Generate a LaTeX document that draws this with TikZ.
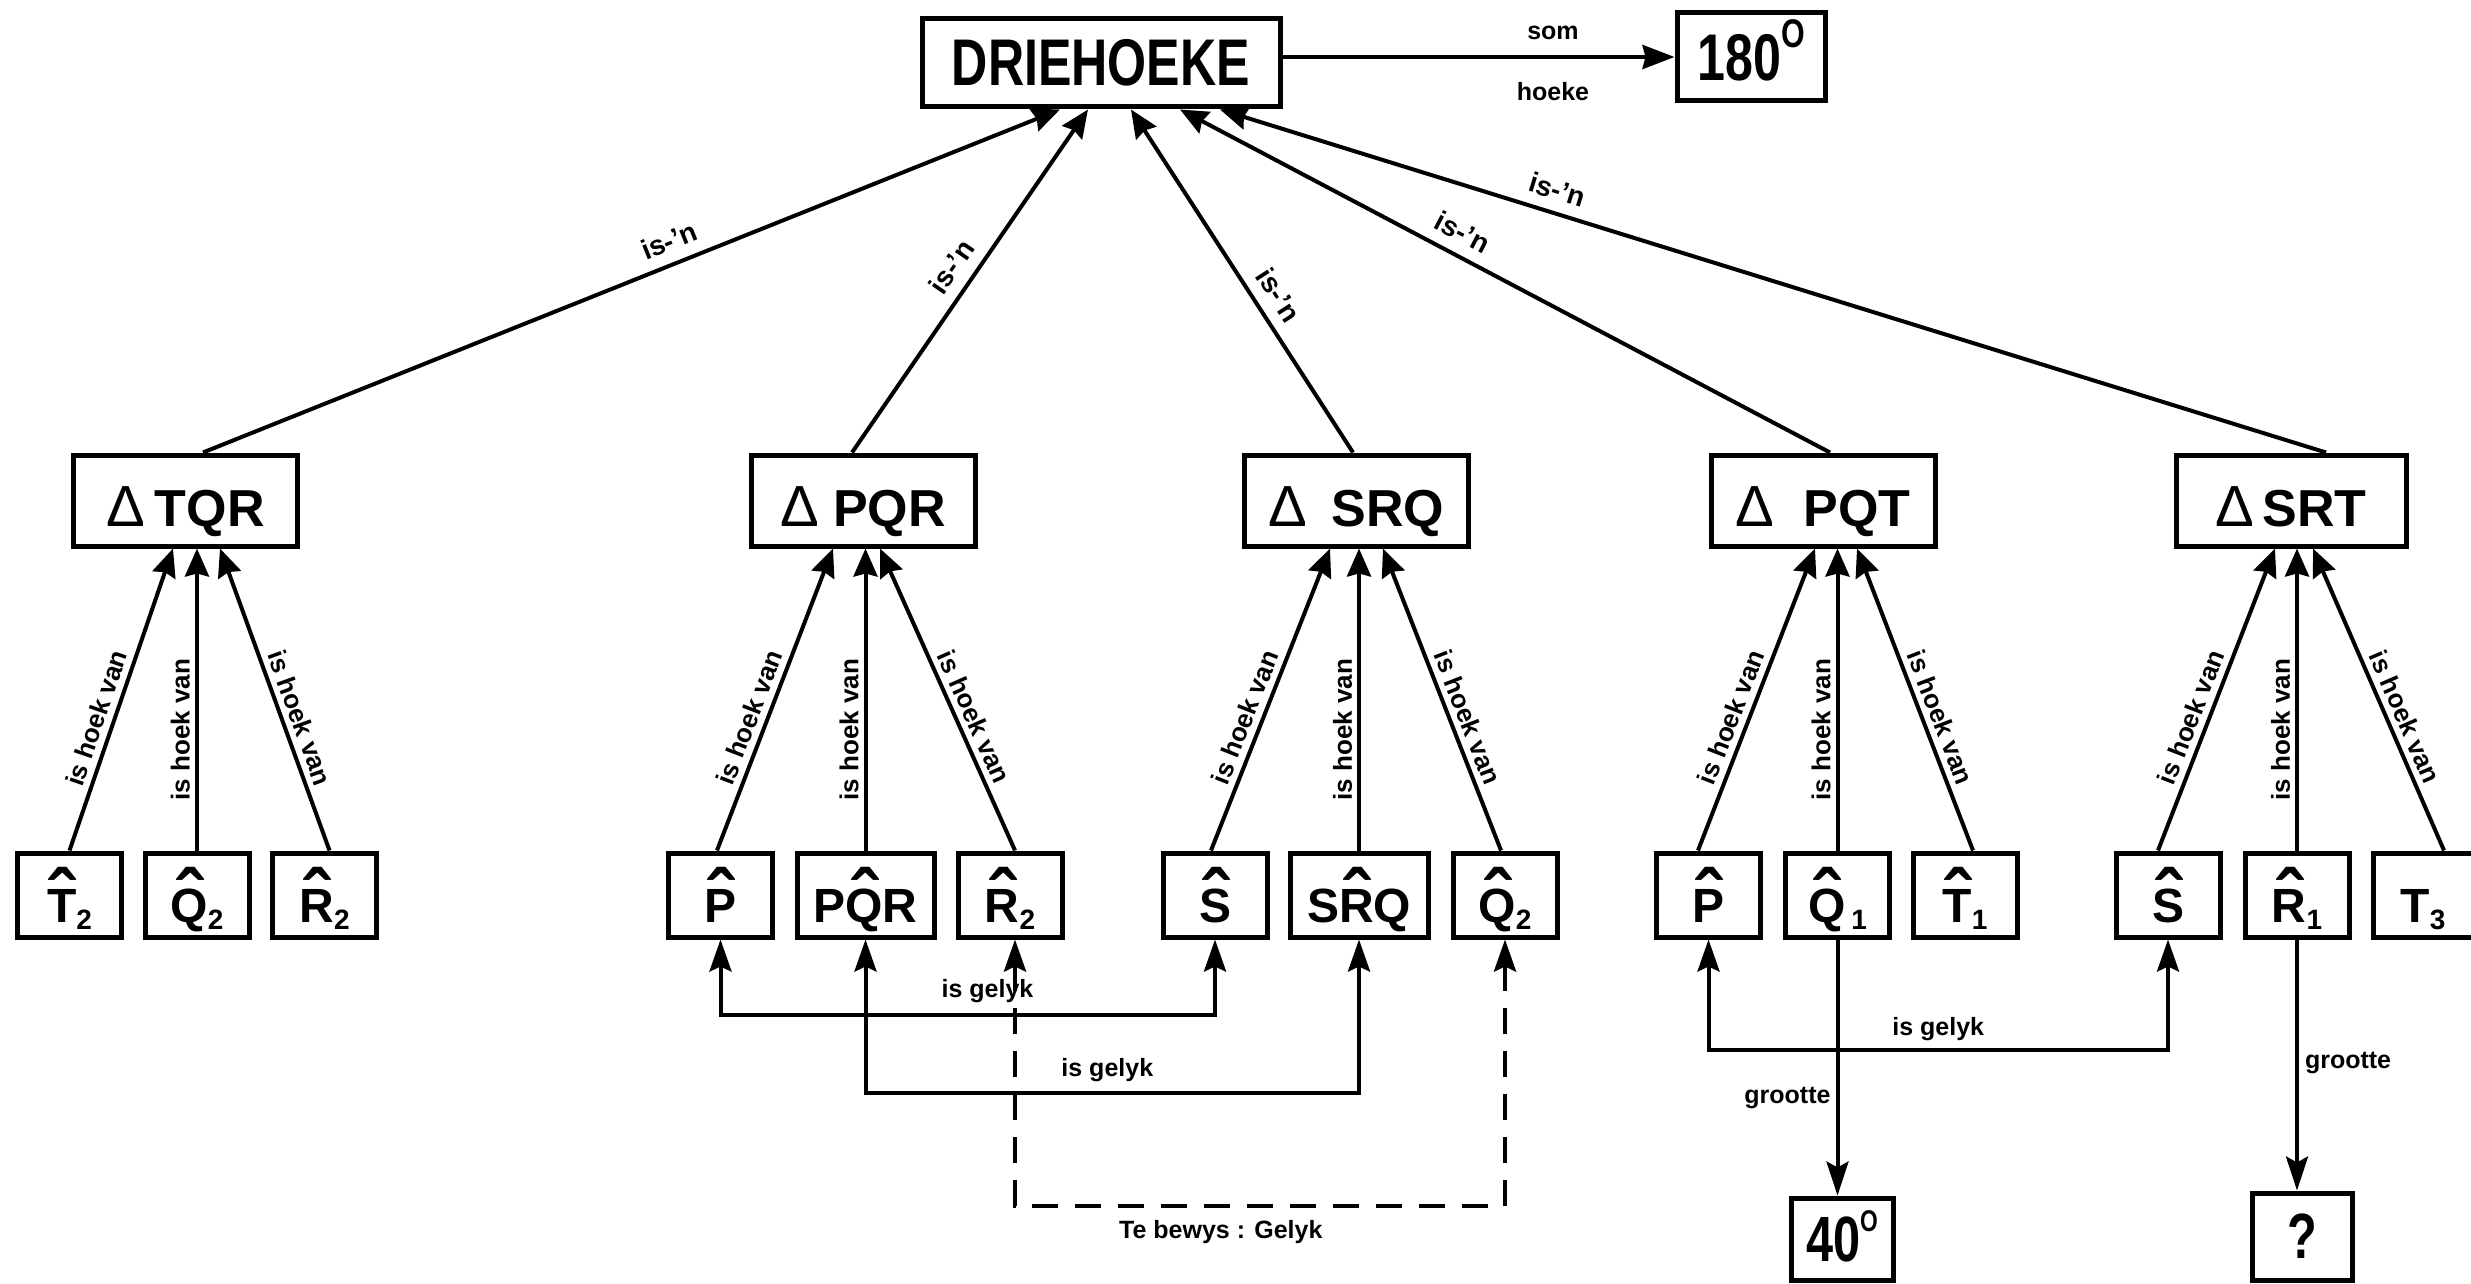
\documentclass[tikz,border=0pt]{standalone}
\usepackage{fontspec}
\setmainfont{Liberation Sans}
\newfontfamily\narrowfont{Liberation Sans}[FakeStretch=0.76]
\usetikzlibrary{arrows.meta}
\newcommand\fs[1]{\fontsize{#1}{#1}\selectfont}
\font\hatfnt="Liberation Sans/B" at 78pt
\fontdimen5\hatfnt=36.5pt
\font\letfnt="Liberation Sans/B" at 48pt
\newcommand\hatx[1]{{\hatfnt\accent"02C6\letfnt #1}}
\newcommand\sbx[1]{{\fs{28}\raisebox{-7pt}{#1}}}
\newcommand\tri{{\mdseries\fs{58}Δ}}
\tikzset{
  box/.style={draw, line width=5pt, inner sep=0pt, font=\bfseries},
  tribox/.style={box, minimum width=224pt, minimum height=91pt, font=\bfseries\fs{52}, text height=53pt, text depth=2pt},
  angbox/.style={box, minimum width=104pt, minimum height=84pt, font=\bfseries\fs{48}, text height=58pt, text depth=4pt},
  link/.style={line width=4pt},
  tip/.style={-{Stealth[length=28pt,width=24pt,inset=3pt]}},
  gtip/.style={{Stealth[length=32pt,width=22pt,inset=5pt]}-{Stealth[length=32pt,width=22pt,inset=5pt]}},
  dtip/.style={-{Stealth[length=34pt,width=22pt,inset=6pt]}},
  lab/.style={font=\bfseries\fs{26}, inner sep=1pt},
  labn/.style={font=\bfseries\fs{28}, inner sep=1pt},
  labs/.style={font=\bfseries\fs{25}, inner sep=1pt},
  dashline/.style={line width=4.5pt, dash pattern=on 26pt off 17pt}
}
\begin{document}
\begin{tikzpicture}[x=1pt,y=-1pt]
\useasboundingbox (0,0) rectangle (2471,1284);
% top
\node[box, minimum width=358pt, minimum height=88pt, font=\narrowfont\bfseries\fs{66}] (drie) at (1101,63) {DRIEHOEKE};
\node[box, minimum width=148pt, minimum height=88pt, font=\narrowfont\bfseries\fs{66}, text height=47pt, text depth=0pt] (n180) at (1751,57) {180\raisebox{33pt}{\fs{40}O}};
% triangles
\node[tribox] (tqr) at (185.5,500.5) {\tri\hspace{10pt}TQR};
\node[tribox] (pqr) at (863,500.5) {\tri\hspace{14pt}PQR};
\node[tribox] (srq) at (1356.5,500.5) {\tri\hspace{24pt}SRQ};
\node[tribox] (pqt) at (1823,500.5) {\tri\hspace{29pt}PQT};
\node[tribox, minimum width=230pt] (srt) at (2291,500.5) {\tri\hspace{8pt}SRT};
% angles
\node[angbox] (t2) at (69.5,895) {\hatx{T}\sbx{2}};
\node[angbox] (q2a) at (197,895) {\hatx{Q}\sbx{2}};
\node[angbox] (r2a) at (324.5,895) {\hatx{R}\sbx{2}};
\node[angbox] (p1) at (720.5,895) {\hatx{P}};
\node[angbox, minimum width=137pt] (pqrang) at (865.5,895) {P\hatx{Q}R};
\node[angbox] (r2b) at (1010,895) {\hatx{R}\sbx{2}};
\node[angbox] (s1) at (1215,895) {\hatx{S}};
\node[angbox, minimum width=138pt] (srqang) at (1359,895) {S\hatx{R}Q};
\node[angbox] (q2b) at (1505,895) {\hatx{Q}\sbx{2}};
\node[angbox] (p2) at (1708.5,895) {\hatx{P}};
\node[angbox] (q1) at (1837.5,895) {\hatx{Q}\hspace{6pt}\sbx{1}};
\node[angbox] (t1) at (1965,895) {\hatx{T}\sbx{1}};
\node[angbox] (s2) at (2168,895) {\hatx{S}};
\node[angbox] (r1) at (2297,895) {\hatx{R}\sbx{1}};
\node[angbox, minimum width=100pt] (t3) at (2423,895) {T\sbx{3}};
% values
\node[box, minimum width=102pt, minimum height=82pt, font=\narrowfont\bfseries\fs{64}, text height=45pt, text depth=0pt] (b40) at (1842,1239) {40\raisebox{30pt}{\fs{30}O}};
\node[box, minimum width=100pt, minimum height=87pt, font=\narrowfont\bfseries\fs{64}] (bq) at (2302,1236.5) {?};
% som hoeke
\draw[link, -{Stealth[length=32pt,width=24pt,inset=3pt]}] (drie.east |- n180.west) -- node[labs, pos=.69, above=14pt]{som} node[labs, pos=.69, below=22pt]{hoeke} (n180.west);
% is-'n
\draw[link, tip] ([xshift=17.5pt]tqr.north) -- node[labn, sloped, above=10pt, pos=.554]{is-’n} ([xshift=-41pt]drie.south);
\draw[link, tip] ([xshift=-11pt]pqr.north) -- node[labn, sloped, above=10pt, pos=.503]{is-’n} ([xshift=-13pt]drie.south);
\draw[link, tip] ([xshift=-3.5pt]srq.north) -- node[labn, sloped, above=10pt, pos=.422]{is-’n} ([xshift=30pt]drie.south);
\draw[link, tip] ([xshift=7pt]pqt.north) -- node[labn, sloped, above=10pt, pos=.582]{is-’n} ([xshift=79pt]drie.south);
\draw[link, tip] ([xshift=35pt]srt.north) -- node[labn, sloped, above=10pt, pos=.701]{is-’n} ([xshift=119pt]drie.south);
% is hoek van
\draw[link, tip] (t2.north) -- node[lab, sloped, above=5pt, pos=.42]{is hoek van} ([xshift=-12.5pt]tqr.south);
\draw[link, tip] (q2a.north) -- node[lab, sloped, above=4pt, pos=.4]{is hoek van} (q2a.north |- tqr.south);
\draw[link, tip] ([xshift=5pt]r2a.north) -- node[lab, sloped, above=5pt, pos=.42]{is hoek van} ([xshift=34.5pt]tqr.south);
\draw[link, tip] ([xshift=-3.5pt]p1.north) -- node[lab, sloped, above=5pt, pos=.42]{is hoek van} ([xshift=-30pt]pqr.south);
\draw[link, tip] (pqrang.north) -- node[lab, sloped, above=4pt, pos=.4]{is hoek van} (pqrang.north |- pqr.south);
\draw[link, tip] ([xshift=5pt]r2b.north) -- node[lab, sloped, above=5pt, pos=.42]{is hoek van} ([xshift=17pt]pqr.south);
\draw[link, tip] ([xshift=-4pt]s1.north) -- node[lab, sloped, above=5pt, pos=.42]{is hoek van} ([xshift=-26.5pt]srq.south);
\draw[link, tip] (srqang.north) -- node[lab, sloped, above=4pt, pos=.4]{is hoek van} (srqang.north |- srq.south);
\draw[link, tip] ([xshift=-4pt]q2b.north) -- node[lab, sloped, above=5pt, pos=.42]{is hoek van} ([xshift=26.5pt]srq.south);
\draw[link, tip] ([xshift=-10.5pt]p2.north) -- node[lab, sloped, above=5pt, pos=.42]{is hoek van} ([xshift=-8pt]pqt.south);
\draw[link, tip] (q1.north) -- node[lab, sloped, above=4pt, pos=.4]{is hoek van} (q1.north |- pqt.south);
\draw[link, tip] ([xshift=8pt]t1.north) -- node[lab, sloped, above=5pt, pos=.42]{is hoek van} ([xshift=34pt]pqt.south);
\draw[link, tip] ([xshift=-10pt]s2.north) -- node[lab, sloped, above=5pt, pos=.42]{is hoek van} ([xshift=-16pt]srt.south);
\draw[link, tip] (r1.north) -- node[lab, sloped, above=4pt, pos=.4]{is hoek van} (r1.north |- srt.south);
\draw[link, tip] ([xshift=21pt]t3.north) -- node[lab, sloped, above=5pt, pos=.42]{is hoek van} ([xshift=22pt]srt.south);
% is gelyk
\coordinate (g1) at (0,1015);
\coordinate (g2) at (0,1093);
\coordinate (g3) at (0,1206);
\coordinate (g4) at (0,1050);
\draw[link, gtip] (p1.south) -- (p1.south |- g1) -| node[labs, pos=.27, above=9pt]{is gelyk} (s1.south);
\draw[link, gtip] (pqrang.south) -- (pqrang.south |- g2) -| node[labs, pos=.245, above=8pt]{is gelyk} (srqang.south);
\coordinate (r2bs) at ([xshift=5pt]r2b.south);
\draw[dashline, gtip] (r2bs) -- (r2bs |- g3) -| node[labs, pos=.21, below=11pt]{Te bewys : Gelyk} (q2b.south);
\draw[link, gtip] (p2.south) -- (p2.south |- g4) -| node[labs, pos=.25, above=6pt]{is gelyk} (s2.south);
% grootte
\draw[link, dtip] (q1.south) -- node[labs, pos=.62, left=4pt]{grootte} (q1.south |- b40.north);
\draw[link, dtip] (r1.south) -- node[labs, pos=.49, right=5pt]{grootte} (r1.south |- bq.north);
\end{tikzpicture}
\end{document}
